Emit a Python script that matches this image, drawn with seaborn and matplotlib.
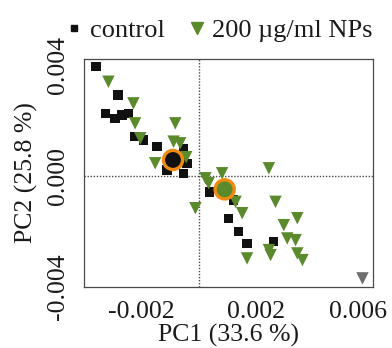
import matplotlib
matplotlib.use("Agg")
import matplotlib.pyplot as plt
import matplotlib.transforms as mtransforms
from matplotlib.lines import Line2D
import seaborn as sns
import pandas as pd

# PCA scores per sample
control_pc1 = [-0.00358, -0.00282, -0.00324, -0.00292, -0.00268, -0.00245, -0.00222,
               -0.00193, -0.00146, -0.00053, -0.00041, -0.00053, -0.00111, 0.00037,
               0.00121, 0.00104, 0.00139, 0.00168, 0.00261]
control_pc2 = [0.00394, 0.00292, 0.00226, 0.00208, 0.00220, 0.00226, 0.00142,
               0.00130, 0.00106, 0.00100, 0.00046, 0.00010, 0.00022, -0.00057,
               -0.00086, -0.00152, -0.00201, -0.00243, -0.00237]

nps_pc1 = [-0.00315, -0.00228, -0.00222, -0.00082, -0.00204, -0.00088, -0.00065,
           -0.00152, -0.00044, 0.00023, 0.00081, 0.00034, 0.00128, -0.00012, 0.00151,
           0.00244, 0.00267, 0.00296, 0.00343, 0.00308, 0.00337, 0.00244, 0.00250,
           0.00168, 0.00343, 0.00361]
nps_pc2 = [0.00340, 0.00262, 0.00190, 0.00190, 0.00136, 0.00124, 0.00118,
           0.00046, 0.00068, -0.00008, 0.00010, -0.00026, -0.00093, -0.00116, -0.00134,
           0.00028, -0.00093, -0.00177, -0.00152, -0.00225, -0.00231, -0.00267, -0.00285,
           -0.00297, -0.00279, -0.00303]

outlier_pc1 = [0.00570]
outlier_pc2 = [-0.00369]

# group centroids
centroid_pc1 = [-0.00090, 0.00090]
centroid_pc2 = [0.00058, -0.00048]

group_names = ["control", "200 \u00b5g/ml NPs"]
xlabel = "PC1 (33.6 %)"
ylabel = "PC2 (25.8 %)"
xticks = [-0.002, 0.0, 0.002, 0.004, 0.006]
xticklabels = ["-0.002", "", "0.002", "", "0.006"]
yticks = [-0.004, -0.002, 0.0, 0.002, 0.004]
yticklabels = ["-0.004", "", "0.000", "", "0.004"]

BLACK = "#111111"
GREEN = "#5b8a2c"
ORANGE = "#f08a10"
GREY = "#6e6e6e"
AXIS = "#4a4a4a"
TEXT = "#1a1a1a"

sns.set_style("white")
plt.rcParams["font.family"] = ["Liberation Serif", "DejaVu Serif"]

df_ctrl = pd.DataFrame({"PC1": control_pc1, "PC2": control_pc2})
df_nps = pd.DataFrame({"PC1": nps_pc1, "PC2": nps_pc2})
df_out = pd.DataFrame({"PC1": outlier_pc1, "PC2": outlier_pc2})
df_cen = pd.DataFrame({"PC1": centroid_pc1, "PC2": centroid_pc2,
                       "group": group_names})

fig = plt.figure(figsize=(3.92, 3.48), dpi=100)
ax = fig.add_axes([0.2143, 0.1753, 0.7360, 0.6552])

ax.axvline(0, color=AXIS, lw=1.0, ls=(0, (1, 1.2)), zorder=1)
ax.axhline(0, color=AXIS, lw=1.0, ls=(0, (1, 1.2)), zorder=1)

sns.scatterplot(data=df_ctrl, x="PC1", y="PC2", marker="s", s=45, color=BLACK,
                edgecolor="none", ax=ax, zorder=3, legend=False)
sns.scatterplot(data=df_nps, x="PC1", y="PC2", marker="v", s=80, color=GREEN,
                edgecolor="none", ax=ax, zorder=4, legend=False)
sns.scatterplot(data=df_out, x="PC1", y="PC2", marker="v", s=80, color=GREY,
                edgecolor="none", ax=ax, zorder=4, legend=False)
sns.scatterplot(data=df_cen, x="PC1", y="PC2", hue="group",
                palette=[BLACK, GREEN], marker="o", s=190, edgecolor=ORANGE,
                linewidth=2.4, ax=ax, zorder=5, legend=False)

ax.set_xlim(-0.004, 0.00605)
ax.set_ylim(-0.004, 0.00422)
ax.set_xticks(xticks)
ax.set_xticklabels(xticklabels)
ax.set_yticks(yticks)
ax.set_yticklabels(yticklabels, rotation=90, va="center")

ax.tick_params(axis="x", direction="out", length=5, width=0.9, color=AXIS,
               labelsize=18.5, labelcolor=TEXT, pad=5)
ax.tick_params(axis="y", direction="out", length=8, width=0.9, color=AXIS,
               labelsize=18.5, labelcolor=TEXT, pad=3)
for sp in ax.spines.values():
    sp.set_color(AXIS)
    sp.set_linewidth(0.9)

# keep the rightmost x label inside the figure
last = ax.get_xticklabels()[-1]
last.set_transform(last.get_transform() +
                   mtransforms.ScaledTranslation(-0.13, 0, fig.dpi_scale_trans))

ax.set_xlabel(xlabel, fontsize=18.5, color=TEXT, labelpad=1)
ax.set_ylabel(ylabel, fontsize=18.5, color=TEXT, labelpad=6.5)

handles = [
    Line2D([], [], marker="s", ls="none", color=BLACK, markersize=5),
    Line2D([], [], marker="v", ls="none", color=GREEN, markersize=8),
]
ax.legend(handles, group_names, loc="lower center", bbox_to_anchor=(0.47, 1.0),
          ncol=2, frameon=False, fontsize=19, handlelength=0.6,
          handletextpad=0.3, columnspacing=0.9, borderaxespad=0.55,
          borderpad=0.1, labelcolor=TEXT)

fig.savefig("out.png", dpi=100, facecolor="white")
